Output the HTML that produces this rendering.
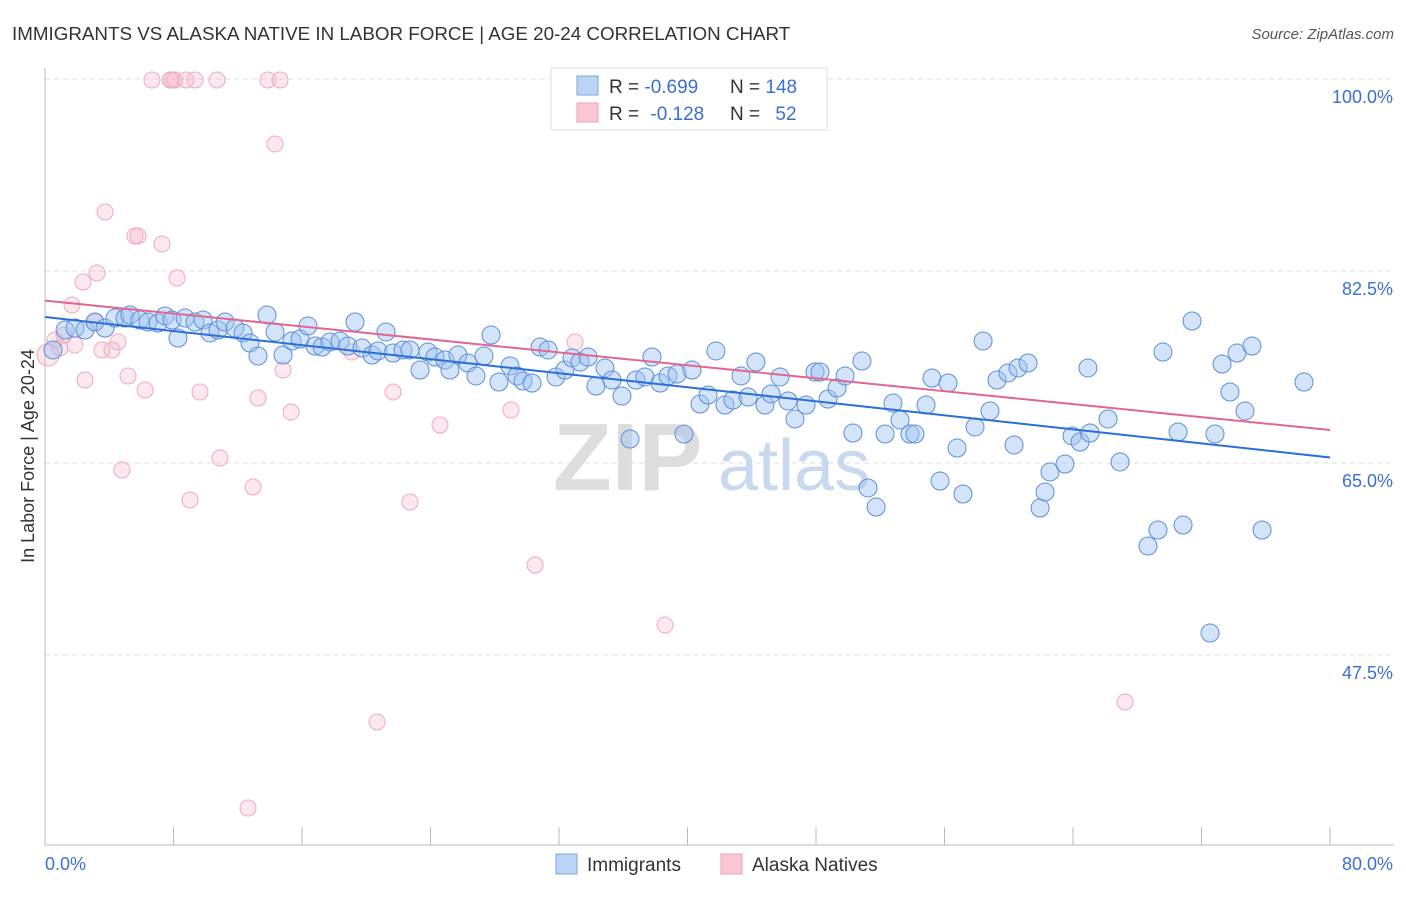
<!DOCTYPE html>
<html><head><meta charset="utf-8"><style>
body{margin:0;background:#fff;font-family:"Liberation Sans",sans-serif;}
svg text{font-family:"Liberation Sans",sans-serif;}
</style></head><body>
<svg id="chart" width="1406" height="892">
<text x="12" y="40" font-size="18.8" fill="#333">IMMIGRANTS VS ALASKA NATIVE IN LABOR FORCE | AGE 20-24 CORRELATION CHART</text>
<text x="1394" y="39" font-size="15" fill="#555" text-anchor="end" font-style="italic">Source: ZipAtlas.com</text>
<g id="grid"></g>
<text x="553" y="490" font-size="96" fill="#ddd" font-family="Liberation Serif" font-weight="bold">ZIP</text>
<text x="718" y="490" font-size="72" fill="#c8d8ee">atlas</text>
<g id="pts"></g>
<g id="lines"></g>
<text transform="translate(34,456) rotate(-90)" font-size="18" fill="#333" text-anchor="middle">In Labor Force | Age 20-24</text>
<text x="45" y="870" font-size="18" fill="#3a6fd6">0.0%</text>
<text x="1393" y="870" font-size="18" fill="#3a6fd6" text-anchor="end">80.0%</text>
<g>
<rect x="551" y="68" width="276" height="62" fill="#fff" stroke="#ddd"/>
<rect x="577" y="76" width="21" height="19" fill="#bcd4f4" stroke="#7aa6e0"/>
<rect x="577" y="103" width="21" height="19" fill="#f9c6d4" stroke="#eca0b6"/>
<text x="609" y="93" font-size="19" fill="#333">R = <tspan fill="#3a6fd6">-0.699</tspan></text>
<text x="730" y="93" font-size="19" fill="#333">N = <tspan fill="#3a6fd6">148</tspan></text>
<text x="609" y="120" font-size="19" fill="#333">R = <tspan fill="#3a6fd6" dx="6">-0.128</tspan></text>
<text x="730" y="120" font-size="19" fill="#333">N = <tspan fill="#3a6fd6" dx="10">52</tspan></text>
</g>
<g>
<rect x="556" y="854" width="21" height="20" fill="#bcd4f4" stroke="#7aa6e0"/>
<text x="587" y="871" font-size="19" fill="#333">Immigrants</text>
<rect x="721" y="854" width="21" height="20" fill="#f9c6d4" stroke="#eca0b6"/>
<text x="752" y="871" font-size="19" fill="#333">Alaska Natives</text>
</g>
</svg>
<script>
const yTicks=[100,82.5,65,47.5];
const xTicks=[0,8,16,24,32,40,48,56,64,72,80];
const bluePx=[[53,350],[65,330],[75,328],[85,330],[95,322],[105,328],[115,318],[125,318],[130,315],[140,320],[148,322],[158,323],[165,316],[172,320],[178,338],[185,318],[195,322],[203,320],[210,333],[218,330],[225,322],[235,328],[243,333],[250,343],[258,356],[267,315],[275,332],[283,355],[292,341],[300,339],[308,326],[315,346],[322,347],[330,342],[340,341],[348,346],[355,322],[362,348],[372,355],[378,351],[386,332],[393,353],[403,350],[410,350],[420,370],[428,352],[435,357],[445,360],[450,370],[458,355],[468,363],[476,376],[484,356],[491,335],[499,382],[510,366],[517,376],[523,381],[532,383],[540,347],[548,350],[556,377],[565,370],[572,358],[580,362],[588,357],[596,386],[605,368],[612,380],[622,396],[630,439],[636,380],[645,377],[652,357],[660,383],[668,376],[677,374],[684,434],[692,370],[700,404],[708,395],[716,351],[725,405],[733,400],[741,376],[748,397],[756,362],[765,405],[771,394],[780,377],[788,401],[795,419],[806,405],[815,372],[820,372],[828,399],[837,388],[845,376],[853,433],[862,361],[868,488],[876,507],[885,434],[893,403],[900,420],[910,434],[915,434],[926,405],[932,378],[940,481],[948,383],[957,448],[963,494],[975,427],[983,341],[990,411],[997,380],[1008,373],[1014,445],[1018,368],[1028,363],[1040,508],[1045,492],[1050,472],[1065,464],[1072,436],[1080,442],[1090,433],[1088,368],[1108,419],[1120,462],[1148,546],[1158,530],[1163,352],[1178,432],[1183,525],[1192,321],[1210,633],[1215,434],[1222,364],[1230,392],[1237,353],[1245,411],[1252,346],[1262,530],[1304,382]];
const pinkPx=[[48,355],[55,340],[60,348],[64,335],[72,305],[75,345],[85,380],[83,282],[95,322],[97,273],[102,350],[105,212],[112,350],[118,342],[122,470],[128,376],[138,236],[135,236],[145,390],[152,80],[162,244],[170,80],[172,80],[175,80],[177,278],[186,80],[190,500],[195,80],[200,392],[217,80],[220,458],[253,487],[258,398],[268,80],[280,80],[275,144],[283,370],[291,412],[352,352],[377,722],[393,392],[410,502],[440,425],[511,410],[535,565],[575,342],[665,625],[652,80],[712,80],[760,80],[1125,702],[248,808]];
const X0=45,X1=1330,Y100=79,PXPCT=10.97;
const xs=v=>X0+(v/80)*(X1-X0);
const ys=v=>Y100+(100-v)*PXPCT;
const blueX=bluePx.map(p=>+((p[0]-X0)/(X1-X0)*80).toFixed(2));
const blueY=bluePx.map(p=>+(100-(p[1]-Y100)/PXPCT).toFixed(2));
const pinkX=pinkPx.map(p=>+((p[0]-X0)/(X1-X0)*80).toFixed(2));
const pinkY=pinkPx.map(p=>+(100-(p[1]-Y100)/PXPCT).toFixed(2));
const blueLine=[78.3,65.5];
const pinkLine=[79.8,68.0];
const NS='http://www.w3.org/2000/svg';
function mk(t,a,p){const e=document.createElementNS(NS,t);for(const k in a)e.setAttribute(k,a[k]);p.appendChild(e);return e;}
const grid=document.getElementById('grid');
yTicks.forEach(v=>{
 const l=mk('line',{x1:X0,x2:1394,y1:ys(v),y2:ys(v),stroke:'#ddd','stroke-dasharray':'5,4'},grid);
 
 
 const t=mk('text',{x:1393,y:ys(v)+24,'font-size':18,fill:'#3a6fd6','text-anchor':'end'},grid);
 t.textContent=v.toFixed(1)+'%';
 
 
});
const ax=mk('line',{x1:X0,x2:X0,y1:68,y2:845,stroke:'#bbb'},grid);


const bx=mk('line',{x1:X0,x2:1394,y1:845,y2:845,stroke:'#bbb'},grid);


xTicks.forEach(v=>{
 const l=mk('line',{x1:xs(v),x2:xs(v),y1:827,y2:845,stroke:'#bbb'},grid);
 
 
});
const pts=document.getElementById('pts');
pinkX.forEach((x,i)=>{
 const c=mk('circle',{cx:xs(x),cy:ys(pinkY[i]),r:i===0?11:8,fill:'rgba(246,180,200,0.3)',stroke:'#eeaabd','stroke-width':1},pts);
 
 
});
blueX.forEach((x,i)=>{
 const c=mk('circle',{cx:xs(x),cy:ys(blueY[i]),r:9,fill:'rgba(160,196,240,0.45)',stroke:'#5a8fdc','stroke-width':1},pts);
 
 
});
const lines=document.getElementById('lines');
const pl=mk('line',{x1:xs(0),y1:ys(pinkLine[0]),x2:xs(80),y2:ys(pinkLine[1]),stroke:'#e2668f','stroke-width':2},lines);


const bl=mk('line',{x1:xs(0),y1:ys(blueLine[0]),x2:xs(80),y2:ys(blueLine[1]),stroke:'#2a6fd8','stroke-width':2},lines);


</script>
</body></html>
